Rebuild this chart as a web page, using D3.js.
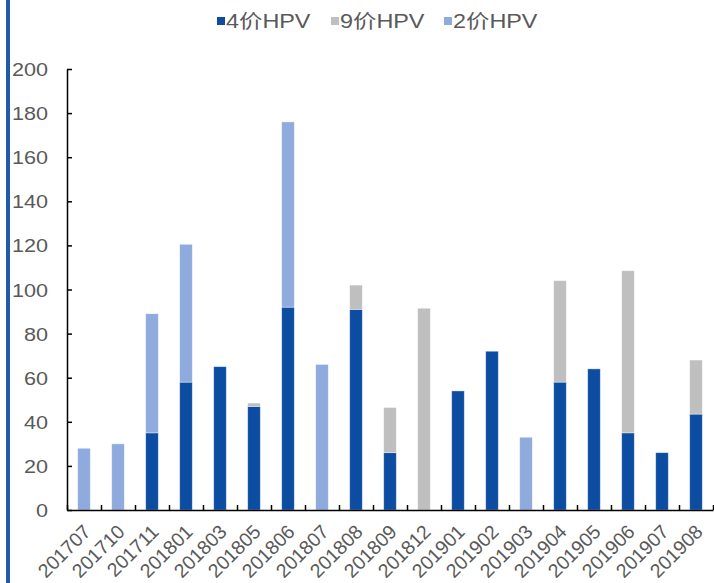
<!DOCTYPE html>
<html>
<head>
<meta charset="utf-8">
<script src="https://cdn.jsdelivr.net/npm/d3@7"></script>
<style>
  html, body { margin: 0; padding: 0; background: #fff; }
  svg text { font-family: "Liberation Sans", Arial, "Noto Sans CJK SC", sans-serif; fill: #595959; }
</style>
</head>
<body>
<svg id="chart" width="714" height="583"></svg>
<script>
const categories = ["201707","201710","201711","201801","201803","201805","201806","201807","201808","201809","201812","201901","201902","201903","201904","201905","201906","201907","201908"];
const hpv4 = [0, 0, 35, 58, 65, 47, 92, 0, 91, 26, 0, 54, 72, 0, 58, 64, 35, 26, 43.5];
const hpv9 = [0, 0, 0, 0, 0, 1.5, 0, 0, 11, 20.5, 91.5, 0, 0, 0, 46, 0, 73.5, 0, 24.5];
const hpv2 = [28, 30, 54, 62.5, 0, 0, 84, 66, 0, 0, 0, 0, 0, 33, 0, 0, 0, 0, 0];
const seriesNames = ["4价HPV", "9价HPV", "2价HPV"];
const seriesKeys = ["hpv4", "hpv9", "hpv2"];
const seriesColors = ["#0C4DA2", "#BFBFBF", "#8FAADC"];
const yTicks = [0, 20, 40, 60, 80, 100, 120, 140, 160, 180, 200];

const rows = categories.map((c, i) => ({ cat: c, hpv4: hpv4[i], hpv9: hpv9[i], hpv2: hpv2[i] }));

const svg = d3.select("#chart");
const plotLeft = 67, plotRight = 713, plotTop = 69, plotBottom = 510;
const SX = 1.2;

// left decorative blue bar
svg.append("rect").attr("x", 6).attr("y", 0).attr("width", 4).attr("height", 583).attr("fill", "#1E5BAA");

const x = d3.scaleBand().domain(categories).range([plotLeft, plotRight]).paddingInner(0.63).paddingOuter(0.315);
const xIdx = d3.scaleLinear().domain([0, categories.length]).range([plotLeft, plotRight]);
const y = d3.scaleLinear().domain([0, 200]).range([plotBottom, plotTop]);

const stacked = d3.stack().keys(seriesKeys)(rows);

svg.append("g").selectAll("g").data(stacked).join("g")
  .attr("fill", (d, i) => seriesColors[i])
  .selectAll("rect").data(d => d.filter(p => p[1] - p[0] > 0)).join("rect")
  .attr("x", d => x(d.data.cat))
  .attr("width", x.bandwidth())
  .attr("y", d => y(d[1]))
  .attr("height", d => y(d[0]) - y(d[1]))
  .attr("stroke", "#ffffff")
  .attr("stroke-opacity", 0.5)
  .attr("stroke-width", 0.75);

// Y axis
const yAxis = svg.append("g").attr("transform", `translate(${plotLeft},0)`)
  .call(d3.axisLeft(y).tickValues(yTicks).tickSize(-5).tickPadding(19).tickSizeOuter(0));
yAxis.select(".domain").attr("stroke", "#000").attr("stroke-width", 1.5);
yAxis.selectAll(".tick line").attr("stroke", "#000").attr("stroke-width", 1.5);
yAxis.selectAll(".tick text")
  .attr("x", 0).attr("dy", null)
  .attr("transform", `translate(-19,6.5) scale(${SX},1)`)
  .attr("font-size", 18).attr("text-anchor", "end");

// X axis boundary ticks
const xTickAxis = svg.append("g").attr("transform", `translate(0,${plotBottom})`)
  .call(d3.axisBottom(xIdx).tickValues(d3.range(0, categories.length + 1)).tickSize(-5).tickFormat("").tickSizeOuter(0));
xTickAxis.select(".domain").attr("stroke", "#000").attr("stroke-width", 1.5);
xTickAxis.selectAll(".tick line").attr("stroke", "#000").attr("stroke-width", 1.5);

// X axis labels
const xAxis = svg.append("g").attr("transform", `translate(0,${plotBottom})`)
  .call(d3.axisBottom(x).tickSize(0));
xAxis.select(".domain").remove();
xAxis.selectAll(".tick text")
  .attr("x", 0).attr("y", 0).attr("dy", null)
  .attr("text-anchor", "end")
  .attr("font-size", 19.5)
  .attr("transform", "translate(8,23) rotate(-45)");

// Legend
const legendX = [217, 331, 444];
const lg = svg.append("g");
seriesNames.forEach((name, i) => {
  lg.append("rect").attr("x", legendX[i]).attr("y", 17).attr("width", 8).attr("height", 8).attr("fill", seriesColors[i]);
  lg.append("text").attr("transform", `translate(${legendX[i] + 9},28) scale(${SX},1)`)
    .attr("font-size", 19.5).text(name);
});
</script>
</body>
</html>
